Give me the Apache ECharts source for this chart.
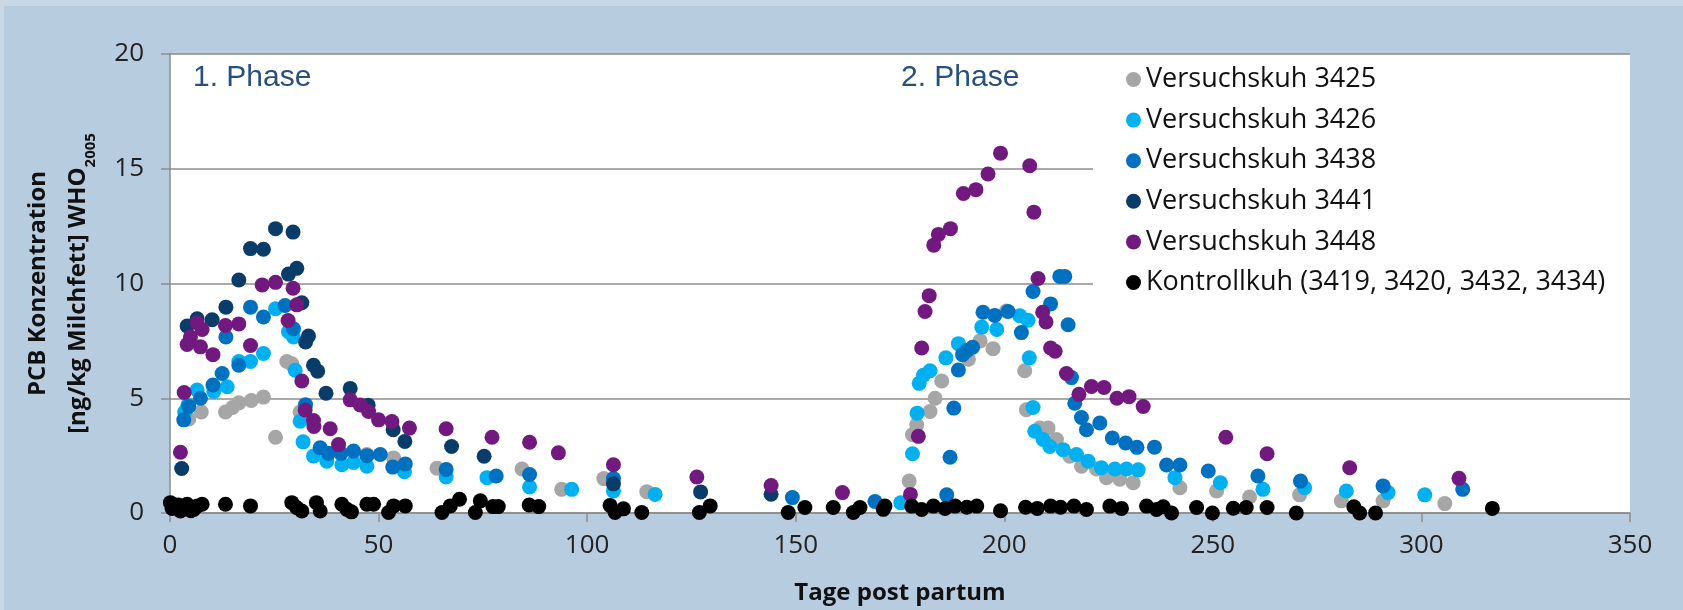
<!DOCTYPE html>
<html>
<head>
<meta charset="utf-8">
<script src="https://cdn.jsdelivr.net/npm/echarts@6/dist/echarts.min.js"></script>
<style>
  html, body { margin: 0; padding: 0; background: #b8cce0; }
  #chart { width: 1683px; height: 610px; }
</style>
</head>
<body>
<div id="chart"></div>
<script>
// PCB concentration per cow, [day post partum, value]
var kuh3425 = [[4.5,4.1],[7.5,4.4],[13.3,4.4],[15,4.6],[16.5,4.8],[19.5,4.9],[22.4,5.05],[25.3,3.3],[28.0,6.6],[29.2,6.5],
  [31.2,4.4],[31.8,4.2],[47.2,2.55],[53.6,2.4],[64,1.95],[84.4,1.92],[93.9,1.03],[104,1.5],[114.3,0.93],
  [177.2,1.39],[178,3.41],[179,3.84],[182.2,4.42],[183.4,5.0],[185,5.75],[191.4,6.7],[194.2,7.5],[197.3,7.16],[200.5,8.8],
  [204.9,6.2],[205.3,4.5],[208.5,3.7],[210.5,3.7],[212.5,3.2],[215.7,2.47],[218.5,2.04],[222.1,1.92],[224.5,1.54],[227.7,1.47],
  [230.9,1.32],[242.1,1.1],[250.9,0.96],[258.8,0.7],[270.8,0.79],[280.8,0.53],[290.8,0.53],[305.6,0.41]];
var kuh3426 = [[3.5,4.4],[4.3,4.7],[6.5,5.36],[10.5,5.3],[13.7,5.5],[16.5,6.6],[19.3,6.6],[22.4,6.95],[25.3,8.9],[28.4,7.9],
  [29.6,7.67],[30.0,6.22],[31.2,4.0],[31.9,3.1],[34.4,2.48],[37.6,2.26],[41.2,2.1],[44,2.2],[47.2,2.04],[56.2,1.8],
  [66.2,1.57],[76,1.54],[86.2,1.13],[96.3,1.03],[106.3,0.96],[116.3,0.81],
  [175.2,0.45],[178,2.58],[179.1,4.35],[179.6,5.65],[180.6,6.0],[182.2,6.2],[186,6.76],[189,7.38],[194.6,8.1],[198.2,8.0],
  [203.7,8.6],[205.7,8.4],[206,6.76],[206.9,4.6],[207.3,3.56],[209.3,3.2],[210.9,2.9],[214.1,2.76],[217.3,2.55],[220.1,2.26],
  [223.3,1.97],[226.5,1.92],[229.3,1.92],[232.1,1.88],[240.9,1.54],[251.8,1.32],[262,1.03],[272,1.1],[282,0.96],[292,0.89],[300.8,0.79]];
var kuh3438 = [[3.3,4.06],[4.5,4.64],[7.3,5.0],[10.3,5.58],[12.5,6.08],[13.4,7.67],[16.5,6.44],[19.3,8.97],[22.4,8.54],[27.6,9.04],
  [29.6,8.03],[32.5,4.72],[36,2.84],[38,2.6],[41,2.6],[44,2.7],[47.2,2.5],[50.4,2.55],[53.4,2.0],[56.4,2.14],
  [66.2,1.9],[78.2,1.61],[86.2,1.68],[106.3,1.5],[149.2,0.67],[169,0.5],
  [186.2,0.79],[187,2.43],[187.9,4.57],[189,6.23],[190,6.9],[191.1,7.08],[192.4,7.22],[194.9,8.75],[197.7,8.61],[200.9,8.78],
  [204.1,7.86],[206.9,9.65],[211.1,9.11],[213.3,10.31],[214.5,10.31],[215.3,8.2],[216.1,5.9],[216.9,4.78],[218.5,4.16],[219.7,3.63],
  [222.9,3.92],[225.9,3.27],[229.1,3.05],[231.8,2.86],[236,2.87],[238.9,2.09],[242.1,2.09],[248.9,1.83],[260.8,1.61],[271,1.39],
  [290.8,1.18],[309.9,1.03]];
var kuh3441 = [[2.8,1.94],[4.1,8.15],[6.5,8.46],[10.1,8.42],[13.4,8.97],[16.5,10.15],[19.3,11.52],[22.4,11.49],[25.3,12.39],[28.4,10.41],
  [29.5,12.24],[30.4,10.66],[31.6,9.16],[32.5,7.45],[33.2,7.71],[34.4,6.44],[35.4,6.18],[37.4,5.22],[43.2,5.43],[47.5,4.7],
  [53.5,3.63],[56.3,3.12],[67.5,2.9],[75.3,2.47],[106.3,1.27],[127.2,0.92],[144.1,0.82]];
var kuh3448 = [[2.5,2.65],[3.4,5.25],[4.1,7.34],[4.9,7.67],[6.5,8.29],[7.3,7.24],[7.7,8.0],[10.3,6.9],[13.3,8.17],[16.5,8.24],
  [19.3,7.3],[22.1,9.94],[25.3,10.05],[28.3,8.39],[29.5,9.79],[30.4,9.07],[31.6,5.75],[32.4,4.49],[34.4,4.03],[34.5,3.77],
  [38.4,3.67],[40.4,2.98],[43.2,4.93],[45.6,4.71],[47.6,4.42],[50,4.06],[53.2,3.99],[57.4,3.7],[66.2,3.67],[77.2,3.3],
  [86.2,3.08],[93.1,2.62],[106.3,2.1],[126.3,1.57],[144.1,1.2],[161.2,0.89],
  [177.5,0.81],[179.4,3.34],[180.2,7.19],[181,8.78],[182,9.47],[183.1,11.67],[184.2,12.14],[187.1,12.39],[190.2,13.92],[193.2,14.09],
  [196.1,14.77],[199.1,15.68],[206.1,15.13],[207.1,13.11],[208.1,10.22],[209.2,8.75],[210,8.32],[211.1,7.19],[212.2,7.05],[214.9,6.08],
  [217.9,5.17],[220.9,5.51],[223.9,5.47],[227,5.0],[229.9,5.07],[233.3,4.64],[253.1,3.3],[263,2.58],[282.8,1.97],[309,1.51]];
var kontrolle = [[0.1,0.45],[0.5,0.2],[1.3,0.23],[2,0.35],[2.5,0.09],[3.3,0.3],[4.1,0.38],[5,0.1],[5.7,0.16],[6.5,0.3],
  [7.7,0.38],[13.3,0.38],[19.3,0.31],[29.2,0.45],[30.4,0.23],[31.6,0.09],[35.1,0.45],[36,0.09],[41.2,0.38],[42.4,0.16],
  [43.5,0.05],[47.2,0.38],[48.8,0.38],[52.4,0.02],[53.6,0.31],[56.4,0.31],[65.2,0.02],[67.2,0.31],[69.4,0.6],[73.2,0.02],
  [74.4,0.53],[77.4,0.28],[78.7,0.28],[86.1,0.35],[88.4,0.28],[105.5,0.33],[106.7,0.02],[108.7,0.18],[113.1,0.02],[126.9,0.02],
  [129.5,0.31],[148.2,0.02],[152.2,0.24],[159,0.24],[163.8,0.02],[165.4,0.24],[171,0.16],[171.4,0.3],[177.8,0.3],[180.2,0.15],
  [183,0.3],[185.8,0.2],[188.2,0.3],[191,0.25],[193.4,0.3],[199.1,0.1],[205.1,0.25],[207.9,0.2],[211.1,0.3],[213.5,0.25],
  [216.7,0.3],[219.7,0.15],[225.3,0.3],[228.1,0.2],[234.1,0.3],[236.5,0.15],[238.1,0.27],[240.1,0.0],[246.1,0.24],[249.9,0.0],
  [254.9,0.21],[258,0.24],[263,0.24],[270,0.0],[283.8,0.27],[285.2,0.0],[289,0.0],[317,0.2]];

var seriesNames = ['Versuchskuh 3425', 'Versuchskuh 3426', 'Versuchskuh 3438', 'Versuchskuh 3441', 'Versuchskuh 3448', 'Kontrollkuh (3419, 3420, 3432, 3434)'];
var seriesData = [kuh3425, kuh3426, kuh3438, kuh3441, kuh3448, kontrolle];
var colors = ['#a6a6a6', '#00b0f0', '#0070c0', '#0a3c6a', '#72197f', '#000000'];

var chart = echarts.init(document.getElementById('chart'));
var font = 'Open Sans';

chart.setOption({
  animation: false,
  backgroundColor: '#b8cce0',
  color: colors,
  grid: {
    left: 170, right: 53, top: 54, bottom: 94.5,
    show: true, backgroundColor: '#ffffff', borderWidth: 0
  },
  legend: {
    orient: 'vertical',
    left: 1121, top: 61,
    icon: 'circle',
    itemWidth: 15, itemHeight: 15,
    itemGap: 13.6,
    data: seriesNames,
    textStyle: { fontFamily: font, fontSize: 27, lineHeight: 27, color: '#111' }
  },
  graphic: [
    { type: 'rect', shape: { x: 0, y: 0, width: 1683, height: 6 }, style: { fill: '#c9d8e7' }, z: -10 },
    { type: 'rect', shape: { x: 0, y: 0, width: 4, height: 610 }, style: { fill: '#c9d8e7' }, z: -10 },
    { type: 'rect', shape: { x: 1093, y: 56, width: 537, height: 262 }, style: { fill: '#ffffff' }, z: 1 },
    { type: 'text', left: 193, top: 63, z: 5,
      style: { text: '1. Phase', fontFamily: 'Liberation Sans', fontSize: 30, fill: '#28507f' } },
    { type: 'text', left: 901, top: 63, z: 5,
      style: { text: '2. Phase', fontFamily: 'Liberation Sans', fontSize: 30, fill: '#28507f' } }
  ],
  xAxis: {
    type: 'value', min: 0, max: 350, interval: 50,
    name: 'Tage post partum', nameLocation: 'middle', nameGap: 68,
    nameTextStyle: { fontFamily: font, fontWeight: 'bold', fontSize: 24, color: '#111' },
    axisLine: { lineStyle: { color: '#8c8c8c', width: 1.5 } },
    axisTick: { show: true, inside: false, length: 9, lineStyle: { color: '#8c8c8c', width: 1.5 } },
    axisLabel: { fontFamily: font, fontSize: 26, color: '#222', margin: 20 },
    splitLine: { show: false }
  },
  yAxis: {
    type: 'value', min: 0, max: 20, interval: 5,
    name: '{t|PCB Konzentration}\n{t|[ng/kg Milchfett] WHO}{s|2005}',
    nameLocation: 'middle', nameGap: 72, nameRotate: 90,
    nameTextStyle: {
      rich: {
        t: { fontFamily: font, fontWeight: 'bold', fontSize: 24, lineHeight: 40, color: '#111' },
        s: { fontFamily: font, fontWeight: 'bold', fontSize: 15, lineHeight: 22, verticalAlign: 'bottom', color: '#111' }
      }
    },
    axisLine: { show: true, lineStyle: { color: '#8c8c8c', width: 1.5 } },
    axisTick: { show: true, inside: false, length: 9, lineStyle: { color: '#8c8c8c', width: 1.5 } },
    axisLabel: { fontFamily: font, fontSize: 26, color: '#222', margin: 26 },
    splitLine: { lineStyle: { color: '#8c8c8c', width: 1.5 } }
  },
  series: seriesNames.map(function (name, i) {
    return {
      name: name,
      type: 'scatter',
      symbol: 'circle',
      symbolSize: 15,
      z: 2 + i,
      itemStyle: { color: colors[i], opacity: 1 },
      data: seriesData[i]
    };
  })
});
</script>
</body>
</html>
